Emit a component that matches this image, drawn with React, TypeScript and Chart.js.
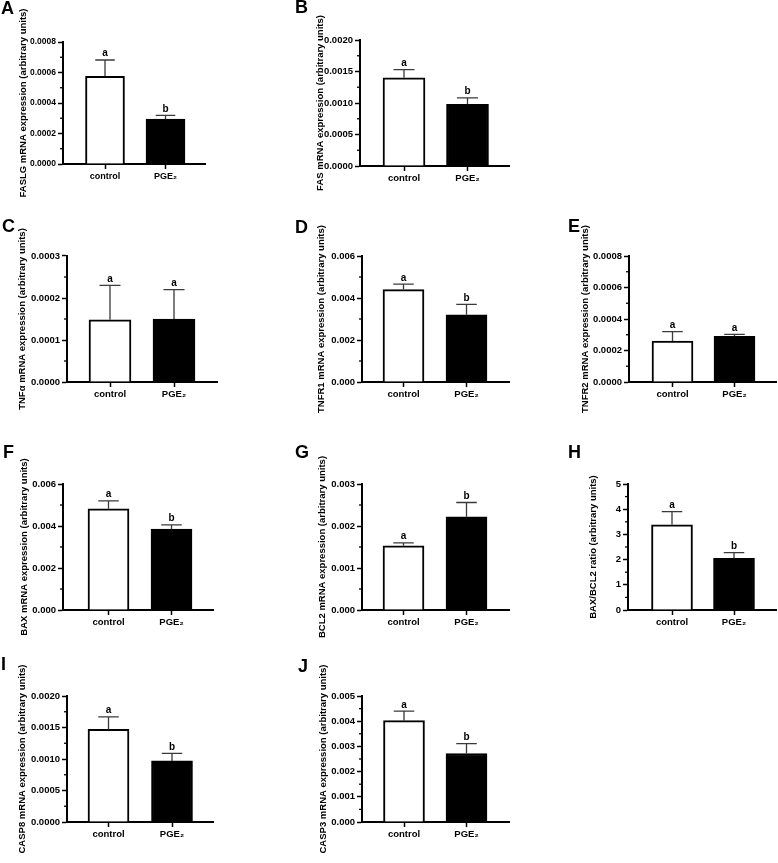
import React, { useEffect, useRef } from 'react';
import { Chart, registerables } from 'chart.js';

Chart.register(...registerables);

const W = 778;
const H = 863;
const FONT = '"Liberation Sans", Arial, Helvetica, sans-serif';

// ---------- data ----------
const categories = ['control', 'PGE₂'];
const panelLetters = ['A', 'B', 'C', 'D', 'E', 'F', 'G', 'H', 'I', 'J'];
const yTitles = [
  'FASLG mRNA expression (arbitrary units)',
  'FAS mRNA expression (arbitrary units)',
  'TNFα mRNA expression (arbitrary units)',
  'TNFR1 mRNA expression (arbitrary units)',
  'TNFR2 mRNA expression (arbitrary units)',
  'BAX mRNA expression (arbitrary units)',
  'BCL2 mRNA expression (arbitrary units)',
  'BAX/BCL2 ratio (arbitrary units)',
  'CASP8 mRNA expression (arbitrary units)',
  'CASP3 mRNA expression (arbitrary units)',
];
const controlMeans = [0.000575, 0.0014, 0.000148, 0.0044, 0.00026, 0.00482, 0.00153, 3.38, 0.00147, 0.00402];
const controlErrors = [0.000107, 0.00013, 0.000082, 0.00026, 0.00006, 0.00038, 0.00007, 0.52, 0.0002, 0.00038];
const pge2Means = [0.000294, 0.00098, 0.00015, 0.0032, 0.00029, 0.00385, 0.00222, 2.05, 0.00097, 0.00272];
const pge2Errors = [0.000025, 0.0001, 0.00007, 0.0005, 0.000012, 0.0002, 0.00034, 0.23, 0.00012, 0.00039];
const controlSig = ['a', 'a', 'a', 'a', 'a', 'a', 'a', 'a', 'a', 'a'];
const pge2Sig = ['b', 'b', 'a', 'b', 'a', 'b', 'b', 'b', 'b', 'b'];
const yMax = [0.0008, 0.002, 0.0003, 0.006, 0.0008, 0.006, 0.003, 5, 0.002, 0.005];
const yMajorStep = [0.0002, 0.0005, 0.0001, 0.002, 0.0002, 0.002, 0.001, 1, 0.0005, 0.001];
const yMinorStep = [0.0001, 0.00025, 0.00005, 0.001, 0.0001, 0.001, 0.0005, 0.5, 0.00025, 0.0005];
const yDecimals = [4, 4, 4, 3, 4, 3, 3, 0, 4, 3];

// ---------- layout (pixels) ----------
type Geo = {
  axisX: number; axisRight: number; top: number; bottom: number;
  c0: number; c1: number; titleX: number; letterX: number; letterY: number;
  tickSize: number; catSize: number; barW: number;
};
const layout: Geo[] = [
  { axisX: 63, axisRight: 205, top: 42, bottom: 164, c0: 105, c1: 165.5, titleX: 23, letterX: 1, letterY: 14, tickSize: 8.5, catSize: 9, barW: 39 },
  { axisX: 360, axisRight: 509, top: 40, bottom: 166, c0: 404, c1: 467.5, titleX: 320, letterX: 295, letterY: 13, tickSize: 9.5, catSize: 9.5, barW: 42 },
  { axisX: 67, axisRight: 217, top: 256, bottom: 382, c0: 110, c1: 174, titleX: 22, letterX: 2, letterY: 232, tickSize: 9.5, catSize: 9.5, barW: 42 },
  { axisX: 362, axisRight: 509, top: 256, bottom: 382, c0: 403.5, c1: 466.5, titleX: 321, letterX: 295, letterY: 233, tickSize: 9.5, catSize: 9.5, barW: 41 },
  { axisX: 629, axisRight: 776, top: 256, bottom: 382, c0: 672.5, c1: 734.5, titleX: 585, letterX: 568, letterY: 232, tickSize: 9.5, catSize: 9.5, barW: 41 },
  { axisX: 63, axisRight: 213, top: 484, bottom: 610, c0: 108.5, c1: 171.5, titleX: 24, letterX: 3, letterY: 458, tickSize: 9.5, catSize: 9.5, barW: 41 },
  { axisX: 362, axisRight: 509, top: 484, bottom: 610, c0: 403.5, c1: 466.5, titleX: 322, letterX: 295, letterY: 458, tickSize: 9.5, catSize: 9.5, barW: 41 },
  { axisX: 628, axisRight: 776, top: 484, bottom: 610, c0: 672, c1: 734, titleX: 593, letterX: 568, letterY: 458, tickSize: 9.5, catSize: 9.5, barW: 41 },
  { axisX: 67, axisRight: 213, top: 696, bottom: 822, c0: 108.5, c1: 172, titleX: 22, letterX: 1, letterY: 670, tickSize: 9.5, catSize: 9.5, barW: 41 },
  { axisX: 362, axisRight: 509, top: 696, bottom: 822, c0: 404, c1: 466.5, titleX: 323, letterX: 298, letterY: 672, tickSize: 9.5, catSize: 9.5, barW: 41 },
];

const TITLE_SIZE = 9.5;
const X_AXIS_H = 30;

function isMajor(v: number, step: number) {
  const r = v / step;
  return Math.abs(r - Math.round(r)) < 1e-6;
}

function decoPlugin(i: number) {
  const g = layout[i];
  return {
    id: 'deco' + i,
    afterDatasetsDraw(chart: any) {
      const { ctx } = chart;
      const xs = chart.scales.x;
      const ys = chart.scales.y;
      const means = [controlMeans[i], pge2Means[i]];
      const errs = [controlErrors[i], pge2Errors[i]];
      const sig = [controlSig[i], pge2Sig[i]];
      ctx.save();
      means.forEach((m, k) => {
        const x = xs.getPixelForValue(k);
        const yb = ys.getPixelForValue(m);
        const yt = ys.getPixelForValue(m + errs[k]);
        const half = g.barW / 4;
        ctx.strokeStyle = '#3a3a3a';
        ctx.lineWidth = 1.3;
        ctx.beginPath();
        ctx.moveTo(x, yb);
        ctx.lineTo(x, yt);
        ctx.moveTo(x - half, yt);
        ctx.lineTo(x + half, yt);
        ctx.stroke();
        ctx.fillStyle = '#000';
        ctx.font = `bold 10px ${FONT}`;
        ctx.textAlign = 'center';
        ctx.textBaseline = 'alphabetic';
        ctx.fillText(sig[k], x, yt - 3.5);
      });
      ctx.restore();
    },
    afterDraw(chart: any) {
      const { ctx } = chart;
      const ys = chart.scales.y;
      ctx.save();
      ctx.strokeStyle = '#000';
      ctx.lineWidth = 1.3;
      ys.ticks.forEach((t: any) => {
        if (!isMajor(t.value, yMajorStep[i])) {
          const y = ys.getPixelForValue(t.value);
          ctx.beginPath();
          ctx.moveTo(ys.right - 3, y);
          ctx.lineTo(ys.right, y);
          ctx.stroke();
        }
      });
      ctx.fillStyle = '#000';
      ctx.font = `bold 18px ${FONT}`;
      ctx.textAlign = 'left';
      ctx.textBaseline = 'alphabetic';
      ctx.fillText(panelLetters[i], g.letterX, g.letterY);
      ctx.restore();
    },
  };
}

function makeConfig(i: number): any {
  const g = layout[i];
  const d = g.c1 - g.c0;
  const xmin = -(g.c0 - g.axisX) / d;
  const xmax = 1 + (g.axisRight - g.c1) / d;
  const padLeft = Math.max(0, g.titleX - (TITLE_SIZE * 1.2) / 2);
  const nMinor = Math.round(yMax[i] / yMinorStep[i]);
  return {
    type: 'bar',
    data: {
      datasets: [
        {
          data: [
            { x: 0, y: controlMeans[i] },
            { x: 1, y: pge2Means[i] },
          ],
          backgroundColor: ['#ffffff', '#000000'],
          borderColor: '#000',
          borderWidth: 2,
          barThickness: g.barW,
          borderSkipped: 'start',
        },
      ],
    },
    options: {
      responsive: false,
      animation: false,
      devicePixelRatio: 1,
      events: [],
      layout: {
        padding: {
          left: padLeft,
          top: g.top,
          right: W - g.axisRight,
          bottom: H - g.bottom - X_AXIS_H,
        },
      },
      plugins: { legend: { display: false }, tooltip: { enabled: false } },
      scales: {
        x: {
          type: 'linear',
          min: xmin,
          max: xmax,
          bounds: 'data',
          offset: false,
          afterFit: (s: any) => { s.height = X_AXIS_H; },
          afterBuildTicks: (s: any) => { s.ticks = categories.map((_, k) => ({ value: k })); },
          ticks: {
            autoSkip: false,
            maxRotation: 0,
            padding: 2,
            color: '#000',
            font: { family: FONT, size: g.catSize, weight: 'bold' },
            callback: (v: any) => categories[Math.round(Number(v))] ?? '',
          },
          grid: { offset: false, drawOnChartArea: false, tickLength: 5, tickColor: '#000', tickWidth: 1.5, color: '#000' },
          border: { display: true, color: '#000', width: 2 },
        },
        y: {
          min: 0,
          max: yMax[i],
          bounds: 'data',
          afterFit: (s: any) => { s.width = g.axisX - padLeft; },
          afterBuildTicks: (s: any) => {
            s.ticks = Array.from({ length: nMinor + 1 }, (_, k) => ({ value: k * yMinorStep[i] }));
          },
          ticks: {
            autoSkip: false,
            padding: 2,
            color: '#000',
            font: { family: FONT, size: g.tickSize, weight: 'bold' },
            callback: (v: any) => (isMajor(Number(v), yMajorStep[i]) ? Number(v).toFixed(yDecimals[i]) : ''),
          },
          grid: {
            offset: false,
            drawOnChartArea: false,
            tickLength: 5,
            tickWidth: 1.5,
            tickColor: (ctx: any) => (ctx.tick && isMajor(ctx.tick.value, yMajorStep[i]) ? '#000' : 'rgba(0,0,0,0)'),
            color: '#000',
          },
          border: { display: true, color: '#000', width: 2 },
          title: {
            display: true,
            text: yTitles[i],
            color: '#000',
            padding: { top: 0, bottom: 0 },
            font: { family: FONT, size: TITLE_SIZE, weight: 'bold' },
          },
        },
      },
    },
    plugins: [decoPlugin(i)],
  };
}

function Panel({ index }: { index: number }) {
  const ref = useRef<HTMLCanvasElement>(null);
  useEffect(() => {
    const chart = new Chart(ref.current as HTMLCanvasElement, makeConfig(index));
    return () => chart.destroy();
  }, [index]);
  return (
    <canvas
      ref={ref}
      width={W}
      height={H}
      style={{ position: 'absolute', left: 0, top: 0, width: W, height: H }}
    />
  );
}

export default function App() {
  return (
    <div style={{ position: 'absolute', left: 0, top: 0, width: W, height: H, background: '#fff', overflow: 'hidden' }}>
      {panelLetters.map((_, i) => (
        <Panel key={i} index={i} />
      ))}
    </div>
  );
}
